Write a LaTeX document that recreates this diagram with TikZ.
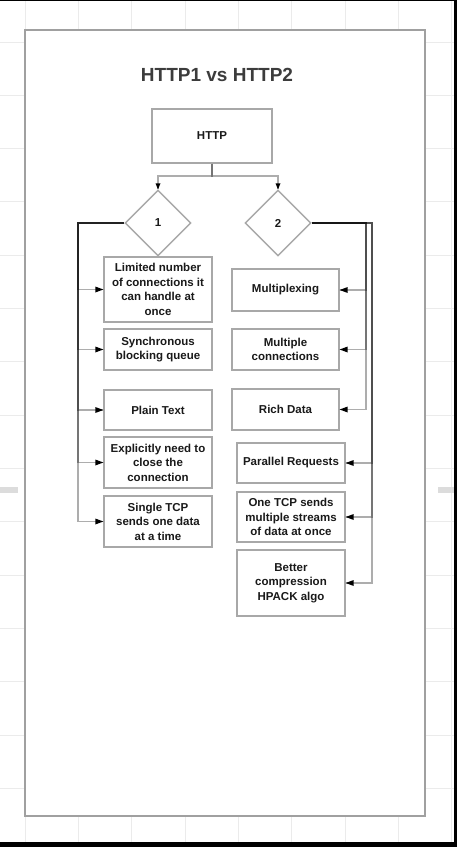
\documentclass[tikz,border=0pt]{standalone}
\usepackage{fontspec}
\setmainfont{Liberation Sans}
\usetikzlibrary{shapes.geometric}
\definecolor{gridc}{HTML}{EBEBEB}
\definecolor{framec}{HTML}{A0A0A0}
\definecolor{boxc}{HTML}{A8A8A8}
\definecolor{titlec}{HTML}{3C3C3C}
\definecolor{handlec}{HTML}{DCDCDC}
\definecolor{txtc}{HTML}{1A1A1A}
\newcommand\mytipW[1]{\fill[black] (#1) -- ++(-8,-3) -- ++(0,6) -- cycle;}
\newcommand\mytipE[1]{\fill[black] (#1) -- ++(8,-3) -- ++(0,6) -- cycle;}
\newcommand\mytipN[1]{\fill[black] (#1) -- ++(-2.5,-6) -- ++(5,0) -- cycle;}
\begin{document}
\begin{tikzpicture}[x=1pt,y=-1pt,
  gridline/.style={draw=gridc,line width=1pt},
  frame/.style={draw=framec,line width=2pt,fill=white},
  box/.style={draw=boxc,line width=1.4pt,fill=white,inner sep=0pt,align=center,
    text=txtc,font=\fontsize{11.5}{14.5}\selectfont\bfseries},
  dia/.style={diamond,draw=boxc,line width=1.4pt,fill=white,inner sep=0pt,
    minimum width=66pt,minimum height=66pt,text=txtc,font=\fontsize{11.5}{14.5}\selectfont\bfseries},
  conn/.style={draw=black,draw opacity=0.32,line width=1.3pt},
  title/.style={text=titlec,font=\fontsize{19}{22}\selectfont\bfseries}]
\useasboundingbox (0,0) rectangle (457,847);
\fill[white] (0,0) rectangle (457,847);
% grid
\foreach \i in {0,...,8} \draw[gridline] (25.3+53.33*\i,0) -- (25.3+53.33*\i,847);
\foreach \j in {0,...,14} \draw[gridline] (0,42+53.33*\j) -- (457,42+53.33*\j);
% side handles
\fill[handlec] (0,487) rectangle (18,493);
\fill[handlec] (438,487) rectangle (454,493);
% frame
\draw[frame] (25,30) rectangle (425,816);
% title
\node[title] (title) at (217,75) {HTTP1 vs HTTP2};
% nodes
\node[box,minimum width=120pt,minimum height=54pt] (http) at (212,136) {HTTP};
\node[dia] (d1) at (158,223) {1};
\node[dia] (d2) at (278,223) {2};
\node[box,minimum width=108pt,minimum height=65pt] (b1) at (158,289.5) {Limited number\\of connections it\\can handle at\\once};
\node[box,minimum width=108pt,minimum height=41pt] (b2) at (158,349.5) {Synchronous\\blocking queue};
\node[box,minimum width=108pt,minimum height=40pt] (b3) at (158,410) {Plain Text};
\node[box,minimum width=108pt,minimum height=51pt] (b4) at (158,462.5) {Explicitly need to\\close the\\connection};
\node[box,minimum width=108pt,minimum height=51pt] (b5) at (158,521.5) {Single TCP\\sends one data\\at a time};
\node[box,minimum width=107pt,minimum height=42pt] (r1) at (285.5,290) {Multiplexing};
\node[box,minimum width=107pt,minimum height=41pt] (r2) at (285.5,349.5) {Multiple\\connections};
\node[box,minimum width=107pt,minimum height=41pt] (r3) at (285.5,409.5) {Rich Data};
\node[box,minimum width=108pt,minimum height=40pt] (r4) at (291,463) {Parallel Requests};
\node[box,minimum width=108pt,minimum height=50pt] (r5) at (291,517) {One TCP sends\\multiple streams\\of data at once};
\node[box,minimum width=108pt,minimum height=66pt] (r6) at (291,583) {Better\\compression\\HPACK algo};
% junctions
\coordinate (jt) at (212,176);
\coordinate (lx) at (78,223);
\coordinate (ra) at (366,223);
\coordinate (rb) at (372,223);
% connectors
\draw[conn] (http.south) -- (jt) -| (d1.north);
\draw[conn] (http.south) -- (jt) -| (d2.north);
\foreach \b in {b1,b2,b3,b4,b5}
  \draw[conn] (d1.west) -- (lx) -- (lx |- \b.west) -- (\b.west);
\foreach \r in {r1,r2,r3}
  \draw[conn] (d2.east) -- (ra) -- (ra |- \r.east) -- (\r.east);
\foreach \r in {r4,r5,r6}
  \draw[conn] (d2.east) -- (rb) -- (rb |- \r.east) -- (\r.east);
% arrow tips
\mytipN{d1.north}
\mytipN{d2.north}
\foreach \b in {b1,b2,b3,b4,b5} {\mytipW{\b.west}}
\foreach \r in {r1,r2,r3,r4,r5,r6} {\mytipE{\r.east}}
% screen edges
\fill[black] (0,0) rectangle (457,1);
\fill[black] (454,0) rectangle (457,847);
\fill[black] (0,842) rectangle (457,847);
\end{tikzpicture}
\end{document}
